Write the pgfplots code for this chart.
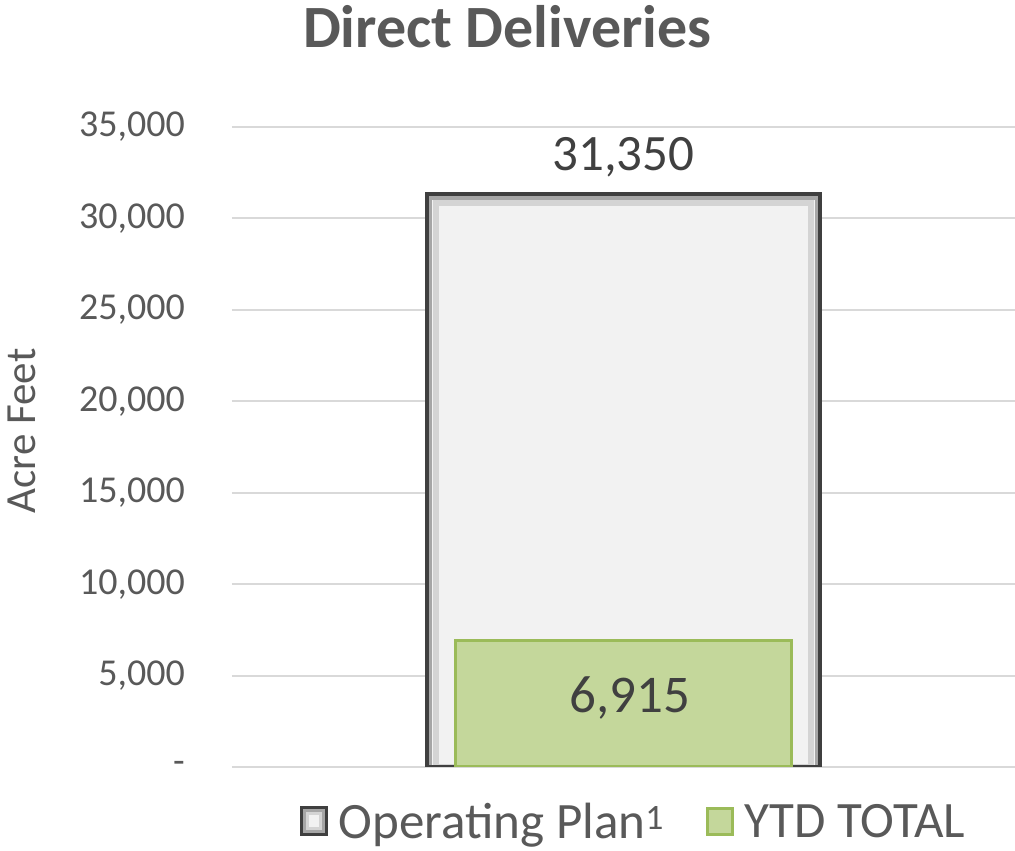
\documentclass[border=0pt]{standalone}
\usepackage{pgfplots}
\pgfplotsset{compat=1.18}
\usepackage{fontspec}
\setmainfont{Carlito}
\definecolor{txt}{HTML}{595959}
\definecolor{dtxt}{HTML}{404040}
\definecolor{gridc}{HTML}{D9D9D9}
\definecolor{opfill}{HTML}{F2F2F2}
\definecolor{opdraw}{HTML}{3F3F3F}
\definecolor{bevA}{HTML}{A6A6A6}
\definecolor{bevB}{HTML}{D4D4D4}
\definecolor{ytdfill}{HTML}{C4D79B}
\definecolor{ytddraw}{HTML}{9BBB59}
\begin{document}
\begin{tikzpicture}
\path[use as bounding box] (-232pt,-84pt) rectangle (783pt,767pt);
\begin{axis}[
  scale only axis, width=783pt, height=640pt,
  xmin=-1, xmax=1, ymin=0, ymax=35000,
  xtick=\empty,
  scaled y ticks=false,
  ytick={0,5000,10000,15000,20000,25000,30000,35000},
  yticklabels={-,{5,000},{10,000},{15,000},{20,000},{25,000},{30,000},{35,000}},
  yticklabel style={font=\fontsize{38}{40}\selectfont, text=txt, inner sep=0pt, anchor=east, xshift=-47pt},
  ymajorgrids, grid style={gridc, line width=2pt},
  axis line style={draw=none}, major tick style={draw=none},
  ylabel={Acre Feet},
  ylabel style={at={(axis description cs:0,0.5)}, anchor=center, yshift=210pt, xshift=16pt, font=\fontsize{43}{45}\selectfont, text=txt},
  title={\textbf{Direct Deliveries}},
  title style={at={(axis description cs:0.5,1)}, anchor=base, xshift=-116pt, yshift=73pt, font=\fontsize{60}{62}\selectfont, text=txt},
  ybar, bar shift=0pt,
  legend columns=2,
  legend style={at={(axis description cs:0.5,0)}, anchor=north, xshift=10pt, yshift=-32pt, draw=none, fill=none, font=\fontsize{51}{53}\selectfont, text=txt,
    /tikz/every odd column/.append style={column sep=9pt},
    /tikz/every even column/.append style={column sep=40pt}},
]
\addplot[fill=opfill, draw=none, bar width=1.006,
  legend image code/.code={
    \fill[opdraw] (0pt,-14pt) rectangle (28pt,16pt);
    \fill[bevA] (3pt,-11pt) rectangle (25pt,13pt);
    \fill[bevB] (6pt,-8pt) rectangle (22pt,10pt);
    \fill[opfill] (9pt,-5pt) rectangle (19pt,7pt);}]
  coordinates {(0,31350)};
\addlegendentry{Operating Plan\textsuperscript{1}}
\addplot[fill=none, draw=bevB, line width=6pt, bar width=0.960, forget plot]
  coordinates {(0,30858)};
\addplot[fill=none, draw=bevA, line width=4pt, bar width=0.986, forget plot]
  coordinates {(0,31131)};
\addplot[fill=none, draw=opdraw, line width=4pt, bar width=1.006, forget plot,
  nodes near coords, nodes near coords style={font=\fontsize{51}{53}\selectfont, text=dtxt, anchor=south, yshift=11pt, /pgf/number format/1000 sep={,}, /pgf/number format/assume math mode=true}]
  coordinates {(0,31350)};
\addplot[fill=ytdfill, draw=ytddraw, line width=3pt, bar width=0.856,
  legend image code/.code={\draw[ytdfill, draw=ytddraw, line width=3pt] (1.5pt,-12.5pt) rectangle (26.5pt,13.5pt);}]
  coordinates {(0,6915)};
\addlegendentry{YTD TOTAL}
\node[font=\fontsize{53}{55}\selectfont, text=dtxt, xshift=6pt] at (axis cs:0,3770) {6,915};
\end{axis}
\end{tikzpicture}
\end{document}
